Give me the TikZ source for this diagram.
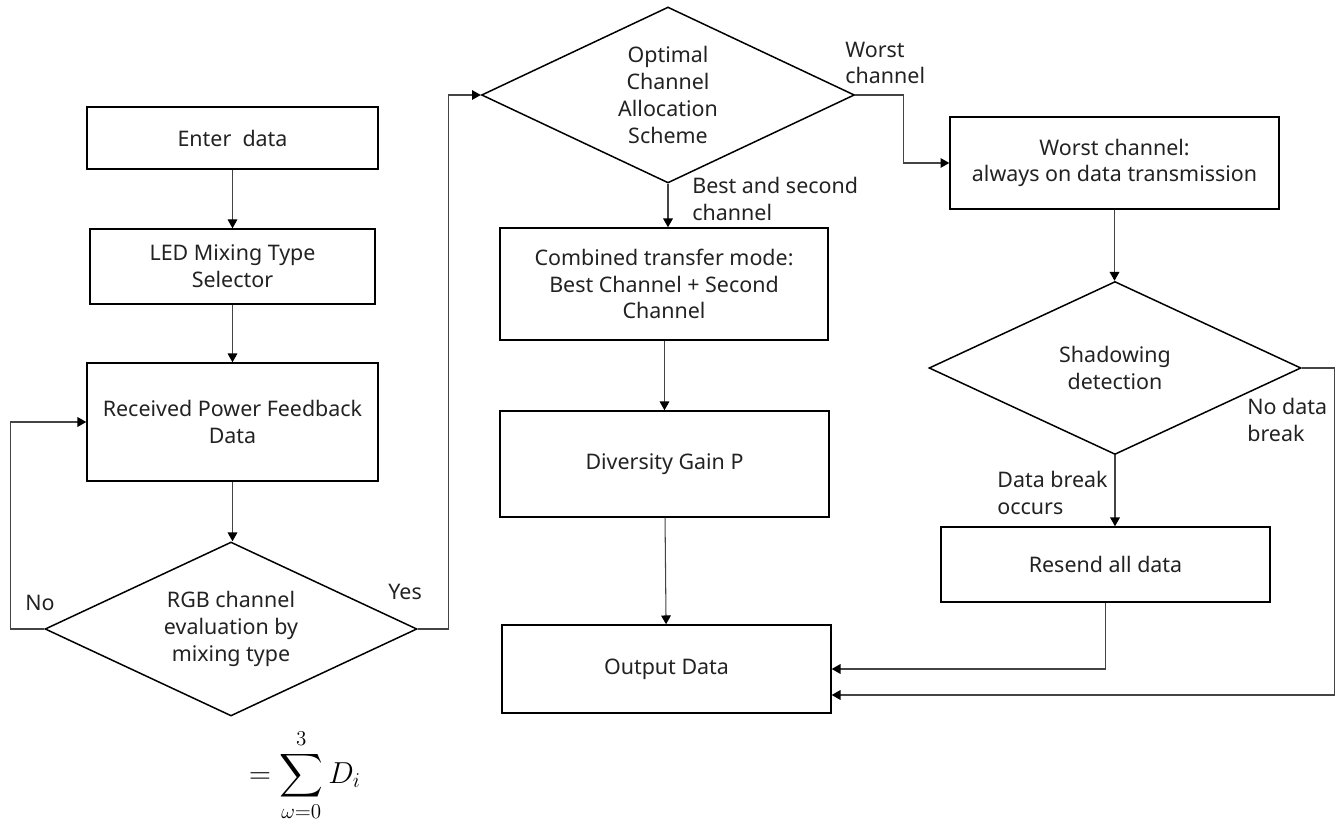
\documentclass[tikz,border=0pt]{standalone}
\usepackage{fontspec}
\setmainfont{Noto Sans}
\usepackage{amsmath}
\usepackage{tikz}
\usetikzlibrary{shapes.geometric,arrows.meta}
\definecolor{LineGray}{HTML}{444444}
\definecolor{TextDark}{HTML}{222222}
\tikzset{
  procbox/.style={
    draw=black,line width=0.85pt,
    minimum width=6.58cm,inner sep=0pt,
    font=\fontsize{12.2}{15.2}\selectfont\color{TextDark},
    align=center
  },
  decision/.style={
    draw=black,line width=0.85pt,diamond,shape aspect=2.14,
    minimum width=7.44cm,minimum height=3.48cm,inner sep=0pt,
    font=\fontsize{12.2}{15.2}\selectfont\color{TextDark},
    align=center
  },
  flowlabel/.style={
    font=\fontsize{12.2}{15.2}\selectfont\color{TextDark},
    align=left,anchor=west,inner sep=0pt
  },
  flow/.style={
    draw=LineGray,line width=0.6pt,
    -{Triangle[length=5pt,width=5.5pt,color=black]}
  },
}

\begin{document}
\begin{tikzpicture}[x=0.02cm,y=-0.02cm]
  \useasboundingbox (0,0) rectangle (1338,830);
  % left column
  \node[procbox,minimum width=5.82cm,minimum height=1.24cm] (enter) at (232.5,138) {Enter~ data};
  \node[procbox,minimum width=5.70cm,minimum height=1.50cm] (led) at (232.5,266.5) {LED Mixing Type\\Selector};
  \node[procbox,minimum width=5.82cm,minimum height=2.36cm] (recv) at (232.5,422) {Received Power Feedback\\Data};
  \node[decision] (rgb) at (231,629) {RGB channel\\evaluation by\\mixing type};
  \node[font=\fontsize{17.5}{21}\selectfont,inner sep=0pt] (sumeq) at (305,775) {$\displaystyle = \sum_{\omega=0}^{3} D_i$};
  % middle column
  \node[decision,minimum width=7.46cm,minimum height=3.52cm] (opt) at (668,95) {Optimal\\Channel\\Allocation\\Scheme};
  \node[procbox,minimum width=6.56cm,minimum height=2.24cm] (comb) at (664,284) {Combined transfer mode:\\Best Channel + Second\\Channel};
  \node[procbox,minimum height=2.12cm] (div) at (664.5,464) {Diversity Gain P};
  \node[procbox,minimum height=1.76cm] (out) at (666.5,669) {Output Data};
  % right column
  \node[procbox,minimum height=1.84cm] (worst) at (1114.5,163) {Worst channel:\\always on data transmission};
  \node[decision,minimum height=3.46cm] (shadow) at (1115,368) {Shadowing\\detection};
  \node[procbox,minimum height=1.50cm] (resend) at (1105.5,564.5) {Resend all data};
  % connectors
  \draw[flow] (enter) -- (led);
  \draw[flow] (led) -- (recv);
  \draw[flow] (recv.south) -- (recv.south |- rgb.north);
  \draw[flow] (rgb.west) -- ++(-34,0) |- (recv.west);
  \draw[flow] (rgb.east) -- ++(31,0) |- (opt.west);
  \draw[flow] (opt.south) -- (opt.south |- comb.north);
  \draw[flow] (opt.east) -- ++(48,0) |- (worst.west);
  \draw[flow] (comb.south -| div.north) -- (div.north);
  \draw[flow] (div) -- (out);
  \draw[flow] (worst.south) -- (worst.south |- shadow.north);
  \draw[flow] (shadow.south) -- (shadow.south |- resend.north);
  \draw[flow] (resend.south) |- (out.east);
  \draw[flow] (shadow.east) -- ++(33,0) |- ([yshift=-0.52cm]out.east);
  % branch labels
  \node[flowlabel] (lno) at (25,603) {No};
  \node[flowlabel] (lyes) at (388,592) {Yes};
  \node[flowlabel] (lworst) at (845,63) {Worst\\channel};
  \node[flowlabel] (lbest) at (692,199) {Best and second\\channel};
  \node[flowlabel] (lbreak) at (997,493) {Data break\\occurs};
  \node[flowlabel] (lnobreak) at (1247,420) {No data\\break};
\end{tikzpicture}
\end{document}
